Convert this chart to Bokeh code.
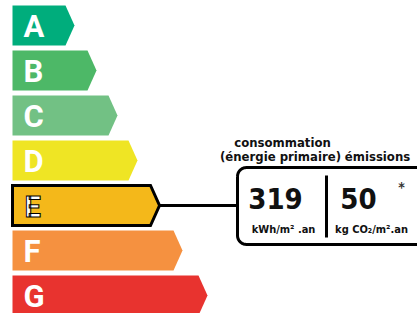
import numpy as np
from bokeh.plotting import figure
from bokeh.models import Range1d, ColumnDataSource
from bokeh.core.properties import value
from bokeh.embed import file_html
from bokeh.resources import INLINE

# ---- data ----
classes = ["A", "B", "C", "D", "E", "F", "G"]
class_colors = ["#00ad7c", "#4db867", "#72c184", "#efe524", "#f4b81a", "#f59140", "#e8332f"]
current_class = "E"
consumption = 319
emissions = 50
consumption_label = ["consommation", "(énergie primaire)"]
emissions_label = "émissions"
consumption_unit = "kWh/m² .an"
emissions_unit = "kg CO₂/m².an"

# ---- layout (reference pixel coords) ----
tip_x = [74, 96, 117, 137, 159, 182, 207]
bar_left, bar_top0, bar_step, bar_h, tip_d = 12, 5, 45, 40, 9
FONT = "DejaVu Sans Condensed, Roboto Condensed, Roboto"
W, H = 417, 313

p = figure(width=W, height=H, output_backend="svg", toolbar_location=None,
           x_range=Range1d(0, W), y_range=Range1d(H, 0),
           x_axis_type=None, y_axis_type=None, min_border=0)
p.outline_line_color = None
p.grid.visible = False

xs, ys, la = [], [], []
for i, c in enumerate(classes):
    t = bar_top0 + bar_step * i
    b = t + bar_h
    tx = tip_x[i]
    xs.append([bar_left, tx - tip_d, tx, tx - tip_d, bar_left])
    ys.append([t, t, (t + b) / 2, b, b])
    la.append(1.0 if c == current_class else 0.0)
src = ColumnDataSource(dict(xs=xs, ys=ys, fill=class_colors, la=la))
p.patches("xs", "ys", source=src, fill_color="fill", line_color="black", line_alpha="la",
          line_width=3, line_join="miter")

# letters
lx = [bar_left + 11 for _ in classes]
ly = [bar_top0 + bar_step * i + bar_h / 2 + 1 for i in range(len(classes))]
others = [i for i, c in enumerate(classes) if c != current_class]
p.text(x=[lx[i] for i in others], y=[ly[i] for i in others], text=[classes[i] for i in others],
       text_color="white", text_font=value("Roboto"), text_font_style="bold",
       text_font_size="31px", text_baseline="middle", text_align="left")
ci = classes.index(current_class)
p.text(x=[lx[ci] + 1], y=[ly[ci]], text=[current_class],
       text_color="white", text_font=value("Roboto"), text_font_style="bold",
       text_font_size="29px", text_baseline="middle", text_align="left",
       text_outline_color="black")

# connector line
cy = bar_top0 + bar_step * ci + bar_h / 2
p.line([tip_x[ci], 237], [cy, cy], line_color="black", line_width=3)

# rounded box
L, T, R, B, r = 237, 167, 440, 244, 9
def arc(cx, cy_, a0, a1):
    a = np.linspace(a0, a1, 10)
    return list(cx + r * np.cos(a)), list(cy_ + r * np.sin(a))
bx, by = [], []
for (cx_, cy_, a0, a1) in [(L + r, T + r, np.pi, 1.5 * np.pi), (R - r, T + r, 1.5 * np.pi, 2 * np.pi),
                           (R - r, B - r, 0, 0.5 * np.pi), (L + r, B - r, 0.5 * np.pi, np.pi)]:
    ax_, ay_ = arc(cx_, cy_, a0, a1)
    bx += ax_; by += ay_
bx.append(bx[0]); by.append(by[0])
p.line(bx, by, line_color="black", line_width=3)

# divider
p.line([326, 326], [175, 237], line_color="black", line_width=3)

tk = dict(text_font=value(FONT), text_font_style="bold", text_baseline="middle",
          text_align="center", text_color="#111111")
# headers
p.text(x=[282], y=[142], text=[consumption_label[0]], text_font_size="13px", **tk)
p.text(x=[280], y=[156], text=[consumption_label[1]], text_font_size="13px", **tk)
p.text(x=[377], y=[156], text=[emissions_label], text_font_size="13px", **tk)

# values
p.text(x=[275], y=[198], text=[str(consumption)], text_font_size="29px", **tk)
p.text(x=[358], y=[198], text=[str(emissions)], text_font_size="29px", **tk)
p.text(x=[283], y=[229], text=[consumption_unit], text_font_size="11px", **tk)
p.text(x=[371], y=[229], text=[emissions_unit], text_font_size="11px", **tk)
p.text(x=[401], y=[186], text=["*"], text_font_size="14px", **dict(tk, text_color="#333333"))

open("out.html", "w").write(file_html(p, INLINE))
